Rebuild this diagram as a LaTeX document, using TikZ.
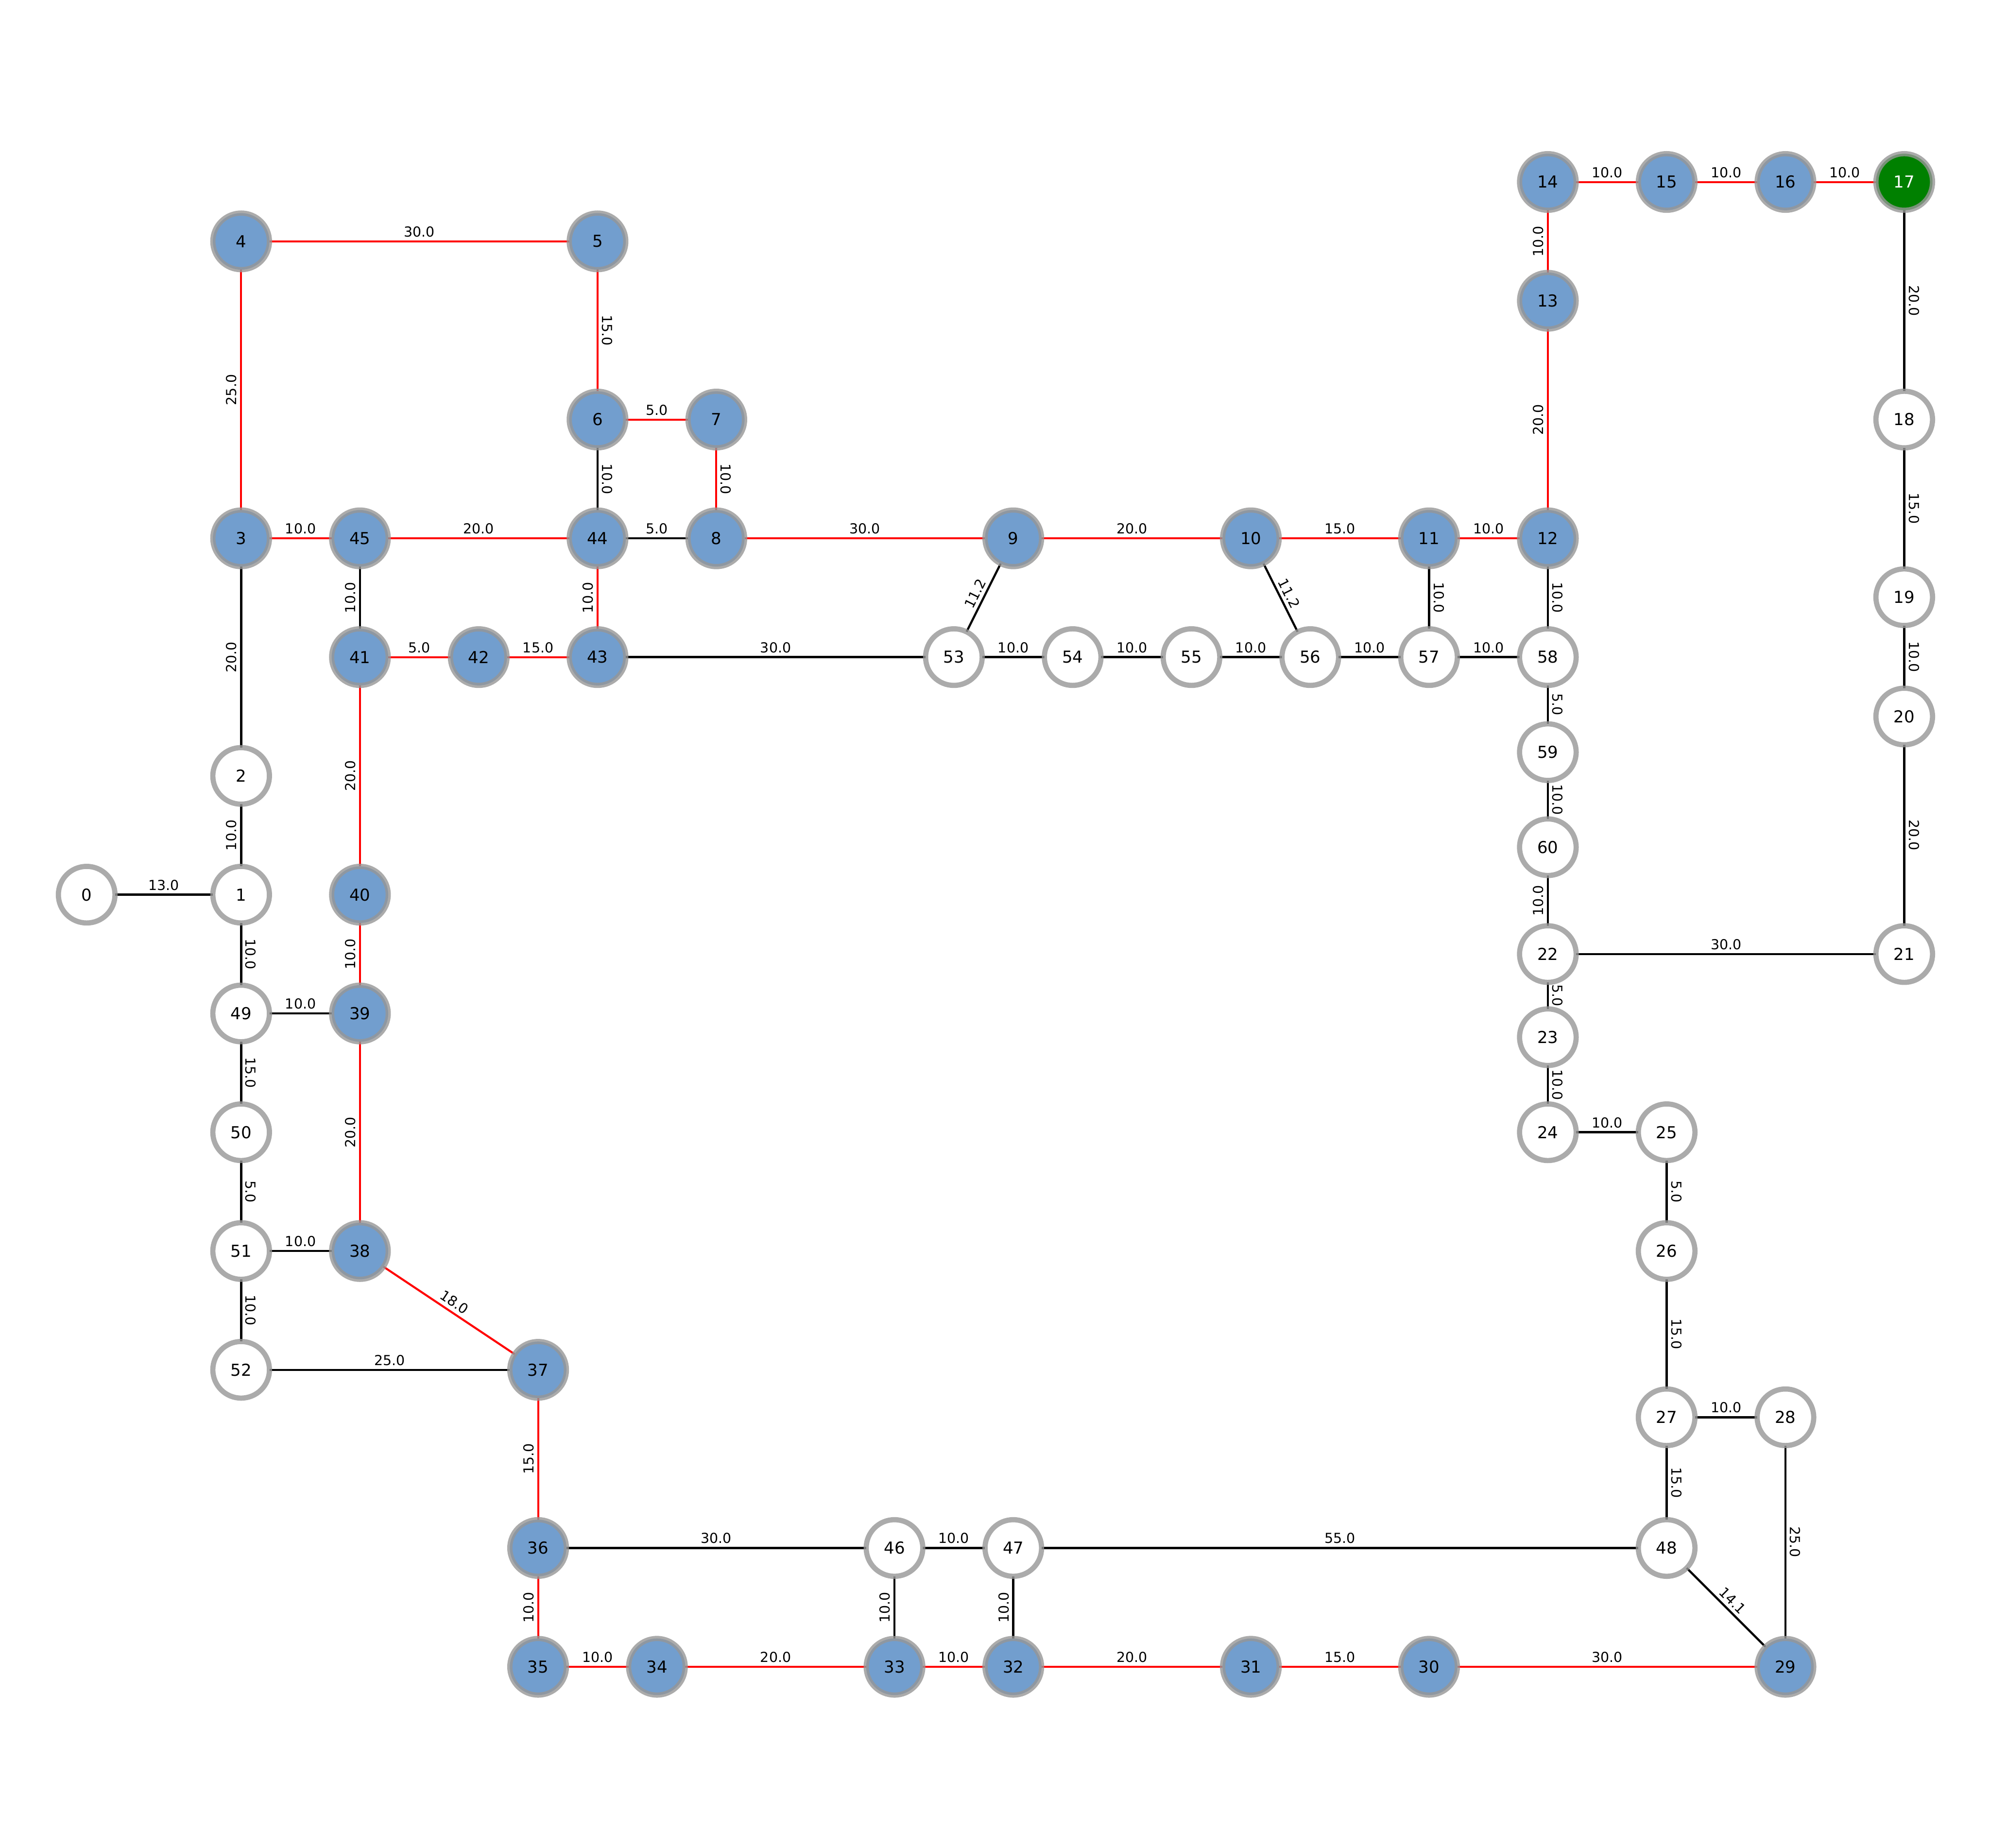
\documentclass[tikz,border=0pt]{standalone}
\usepackage{fontspec}
\setmainfont{DejaVu Sans}
\usetikzlibrary{backgrounds}

\definecolor{nodeblue}{RGB}{114,158,206}
\definecolor{nodegreen}{RGB}{0,128,0}
\definecolor{ringgray}{RGB}{150,150,150}

\begin{document}
\begin{tikzpicture}[x=0.02cm,y=-0.02cm,
    vertex/.style={circle,minimum size=0.892cm,inner sep=0pt,outer sep=0pt,line width=0.082cm,draw=ringgray,draw opacity=0.8,font=\fontsize{7.4}{8}\selectfont},
    freenode/.style={vertex,fill=white},
    bluenode/.style={vertex,fill=nodeblue},
    goalnode/.style={vertex,fill=nodegreen,text=white},
    blackedge/.style={draw=black,line width=0.95pt},
    rededge/.style={draw=red,line width=0.9pt},
    weight/.style={midway,sloped,above,inner sep=2pt,outer sep=0pt,font=\fontsize{6.2}{7}\selectfont}]

    \useasboundingbox (0,0) rectangle (1568,1456);

    \node (n0) at (68.3,705) [freenode] {0};
    \node (n1) at (190,705) [freenode] {1};
    \node (n2) at (190,611.4) [freenode] {2};
    \node (n3) at (190,424.2) [bluenode] {3};
    \node (n4) at (190,190.2) [bluenode] {4};
    \node (n5) at (470.8,190.2) [bluenode] {5};
    \node (n6) at (470.8,330.6) [bluenode] {6};
    \node (n7) at (564.4,330.6) [bluenode] {7};
    \node (n8) at (564.4,424.2) [bluenode] {8};
    \node (n9) at (798.4,424.2) [bluenode] {9};
    \node (n10) at (985.6,424.2) [bluenode] {10};
    \node (n11) at (1126,424.2) [bluenode] {11};
    \node (n12) at (1219.6,424.2) [bluenode] {12};
    \node (n13) at (1219.6,237) [bluenode] {13};
    \node (n14) at (1219.6,143.4) [bluenode] {14};
    \node (n15) at (1313.2,143.4) [bluenode] {15};
    \node (n16) at (1406.8,143.4) [bluenode] {16};
    \node (n17) at (1500.4,143.4) [goalnode] {17};
    \node (n18) at (1500.4,330.6) [freenode] {18};
    \node (n19) at (1500.4,470.6) [freenode] {19};
    \node (n20) at (1500.4,564.6) [freenode] {20};
    \node (n21) at (1500.4,751.8) [freenode] {21};
    \node (n22) at (1219.6,751.8) [freenode] {22};
    \node (n23) at (1219.6,817.3) [freenode] {23};
    \node (n24) at (1219.6,892.2) [freenode] {24};
    \node (n25) at (1313.2,892.2) [freenode] {25};
    \node (n26) at (1313.2,985.8) [freenode] {26};
    \node (n27) at (1313.2,1116.8) [freenode] {27};
    \node (n28) at (1406.8,1116.8) [freenode] {28};
    \node (n29) at (1406.8,1313.4) [bluenode] {29};
    \node (n30) at (1126,1313.4) [bluenode] {30};
    \node (n31) at (985.6,1313.4) [bluenode] {31};
    \node (n32) at (798.4,1313.4) [bluenode] {32};
    \node (n33) at (704.8,1313.4) [bluenode] {33};
    \node (n34) at (517.6,1313.4) [bluenode] {34};
    \node (n35) at (424,1313.4) [bluenode] {35};
    \node (n36) at (424,1219.8) [bluenode] {36};
    \node (n37) at (424,1079.4) [bluenode] {37};
    \node (n38) at (283.6,985.8) [bluenode] {38};
    \node (n39) at (283.6,798.6) [bluenode] {39};
    \node (n40) at (283.6,705) [bluenode] {40};
    \node (n41) at (283.6,517.8) [bluenode] {41};
    \node (n42) at (377.2,517.8) [bluenode] {42};
    \node (n43) at (470.8,517.8) [bluenode] {43};
    \node (n44) at (470.8,424.2) [bluenode] {44};
    \node (n45) at (283.6,424.2) [bluenode] {45};
    \node (n46) at (704.8,1219.8) [freenode] {46};
    \node (n47) at (798.4,1219.8) [freenode] {47};
    \node (n48) at (1313.2,1219.8) [freenode] {48};
    \node (n49) at (190,798.6) [freenode] {49};
    \node (n50) at (190,892.2) [freenode] {50};
    \node (n51) at (190,985.8) [freenode] {51};
    \node (n52) at (190,1079.4) [freenode] {52};
    \node (n53) at (751.6,517.8) [freenode] {53};
    \node (n54) at (845.2,517.8) [freenode] {54};
    \node (n55) at (938.8,517.8) [freenode] {55};
    \node (n56) at (1032.4,517.8) [freenode] {56};
    \node (n57) at (1126,517.8) [freenode] {57};
    \node (n58) at (1219.6,517.8) [freenode] {58};
    \node (n59) at (1219.6,592.7) [freenode] {59};
    \node (n60) at (1219.6,667.6) [freenode] {60};

    \begin{scope}[on background layer]
    \draw[rededge] (n4) -- node[weight] {30.0} (n5);
    \draw[rededge] (n3) -- node[weight] {25.0} (n4);
    \draw[rededge] (n5) -- node[weight] {15.0} (n6);
    \draw[rededge] (n6) -- node[weight] {5.0} (n7);
    \draw[rededge] (n7) -- node[weight] {10.0} (n8);
    \draw[rededge] (n8) -- node[weight] {30.0} (n9);
    \draw[rededge] (n9) -- node[weight] {20.0} (n10);
    \draw[rededge] (n10) -- node[weight] {15.0} (n11);
    \draw[rededge] (n11) -- node[weight] {10.0} (n12);
    \draw[rededge] (n12) -- node[weight] {20.0} (n13);
    \draw[rededge] (n13) -- node[weight] {10.0} (n14);
    \draw[rededge] (n14) -- node[weight] {10.0} (n15);
    \draw[rededge] (n15) -- node[weight] {10.0} (n16);
    \draw[rededge] (n16) -- node[weight] {10.0} (n17);
    \draw[rededge] (n3) -- node[weight] {10.0} (n45);
    \draw[rededge] (n45) -- node[weight] {20.0} (n44);
    \draw[rededge] (n43) -- node[weight] {10.0} (n44);
    \draw[rededge] (n42) -- node[weight] {15.0} (n43);
    \draw[rededge] (n41) -- node[weight] {5.0} (n42);
    \draw[rededge] (n40) -- node[weight] {20.0} (n41);
    \draw[rededge] (n39) -- node[weight] {10.0} (n40);
    \draw[rededge] (n38) -- node[weight] {20.0} (n39);
    \draw[rededge] (n38) -- node[weight] {18.0} (n37);
    \draw[rededge] (n36) -- node[weight] {15.0} (n37);
    \draw[rededge] (n35) -- node[weight] {10.0} (n36);
    \draw[rededge] (n35) -- node[weight] {10.0} (n34);
    \draw[rededge] (n34) -- node[weight] {20.0} (n33);
    \draw[rededge] (n33) -- node[weight] {10.0} (n32);
    \draw[rededge] (n32) -- node[weight] {20.0} (n31);
    \draw[rededge] (n31) -- node[weight] {15.0} (n30);
    \draw[rededge] (n30) -- node[weight] {30.0} (n29);

    \draw[blackedge] (n0) -- node[weight] {13.0} (n1);
    \draw[blackedge] (n1) -- node[weight] {10.0} (n2);
    \draw[blackedge] (n2) -- node[weight] {20.0} (n3);
    \draw[blackedge] (n1) -- node[weight] {10.0} (n49);
    \draw[blackedge] (n49) -- node[weight] {10.0} (n39);
    \draw[blackedge] (n49) -- node[weight] {15.0} (n50);
    \draw[blackedge] (n50) -- node[weight] {5.0} (n51);
    \draw[blackedge] (n51) -- node[weight] {10.0} (n38);
    \draw[blackedge] (n51) -- node[weight] {10.0} (n52);
    \draw[blackedge] (n52) -- node[weight] {25.0} (n37);
    \draw[blackedge] (n6) -- node[weight] {10.0} (n44);
    \draw[blackedge] (n44) -- node[weight] {5.0} (n8);
    \draw[blackedge] (n41) -- node[weight] {10.0} (n45);
    \draw[blackedge] (n43) -- node[weight] {30.0} (n53);
    \draw[blackedge] (n53) -- node[weight] {11.2} (n9);
    \draw[blackedge] (n53) -- node[weight] {10.0} (n54);
    \draw[blackedge] (n54) -- node[weight] {10.0} (n55);
    \draw[blackedge] (n55) -- node[weight] {10.0} (n56);
    \draw[blackedge] (n10) -- node[weight] {11.2} (n56);
    \draw[blackedge] (n56) -- node[weight] {10.0} (n57);
    \draw[blackedge] (n11) -- node[weight] {10.0} (n57);
    \draw[blackedge] (n57) -- node[weight] {10.0} (n58);
    \draw[blackedge] (n12) -- node[weight] {10.0} (n58);
    \draw[blackedge] (n58) -- node[weight] {5.0} (n59);
    \draw[blackedge] (n59) -- node[weight] {10.0} (n60);
    \draw[blackedge] (n22) -- node[weight] {10.0} (n60);
    \draw[blackedge] (n22) -- node[weight] {30.0} (n21);
    \draw[blackedge] (n22) -- node[weight] {5.0} (n23);
    \draw[blackedge] (n23) -- node[weight] {10.0} (n24);
    \draw[blackedge] (n24) -- node[weight] {10.0} (n25);
    \draw[blackedge] (n25) -- node[weight] {5.0} (n26);
    \draw[blackedge] (n26) -- node[weight] {15.0} (n27);
    \draw[blackedge] (n27) -- node[weight] {10.0} (n28);
    \draw[blackedge] (n27) -- node[weight] {15.0} (n48);
    \draw[blackedge] (n28) -- node[weight] {25.0} (n29);
    \draw[blackedge] (n48) -- node[weight] {14.1} (n29);
    \draw[blackedge] (n36) -- node[weight] {30.0} (n46);
    \draw[blackedge] (n46) -- node[weight] {10.0} (n47);
    \draw[blackedge] (n47) -- node[weight] {55.0} (n48);
    \draw[blackedge] (n33) -- node[weight] {10.0} (n46);
    \draw[blackedge] (n32) -- node[weight] {10.0} (n47);
    \draw[blackedge] (n17) -- node[weight] {20.0} (n18);
    \draw[blackedge] (n18) -- node[weight] {15.0} (n19);
    \draw[blackedge] (n19) -- node[weight] {10.0} (n20);
    \draw[blackedge] (n20) -- node[weight] {20.0} (n21);
    \end{scope}
  \end{tikzpicture}
\end{document}
